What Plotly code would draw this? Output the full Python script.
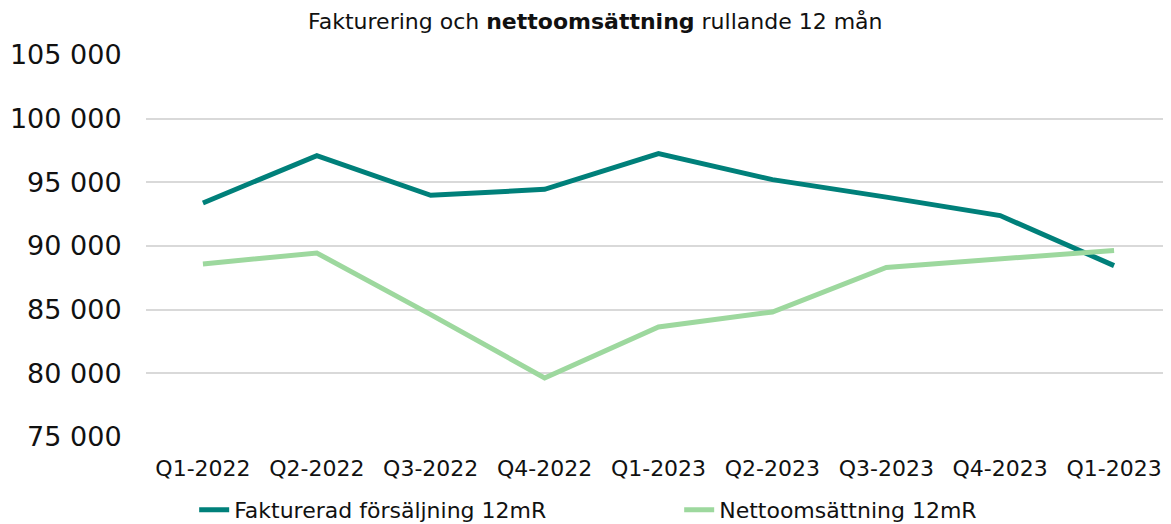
import plotly.graph_objects as go

categories = ["Q1-2022", "Q2-2022", "Q3-2022", "Q4-2022", "Q1-2023",
              "Q2-2023", "Q3-2023", "Q4-2023", "Q1-2023"]
fakturerad = [93380, 97100, 93980, 94450, 97250, 95210, 93840, 92390, 88460]
netto = [88590, 89450, 84610, 79640, 83640, 84820, 88320, 89000, 89650]
y_ticks = [75000, 80000, 85000, 90000, 95000, 100000, 105000]

xpos = list(range(len(categories)))
FONT = "DejaVu Sans"

fig = go.Figure()
fig.add_trace(go.Scatter(x=xpos, y=fakturerad, mode="lines",
                         name="Fakturerad försäljning 12mR",
                         line=dict(color="#00807A", width=5)))
fig.add_trace(go.Scatter(x=xpos, y=netto, mode="lines",
                         name="Nettoomsättning 12mR",
                         line=dict(color="#9DD89E", width=5)))

fig.update_layout(
    width=1163, height=516,
    margin=dict(l=138, r=0, t=47, b=87, autoexpand=False),
    paper_bgcolor="white", plot_bgcolor="white",
    separators=", ",
    font=dict(family=FONT, color="#111111"),
    title=dict(text="Fakturering och <b>nettoomsättning</b> rullande 12 mån",
               x=0.505, xanchor="center", y=0.974, yanchor="middle",
               font=dict(size=22, family=FONT, color="#111111")),
    showlegend=True,
    legend=dict(orientation="h", x=0.047, xanchor="left", y=-0.191, yanchor="middle",
                font=dict(size=22, family=FONT), entrywidth=440, entrywidthmode="pixels"),
)
fig.update_xaxes(range=[-0.5, 8.5], tickvals=xpos, ticktext=categories,
                 showgrid=False, zeroline=False, showline=False,
                 ticks="outside", ticklen=12, tickcolor="white",
                 tickfont=dict(size=22, family=FONT, color="#111111"))
fig.update_yaxes(range=[75000, 105000], tickvals=y_ticks, tickformat=",d",
                 showgrid=True, gridcolor="#D9D9D9", gridwidth=1.6,
                 zeroline=False, showline=False,
                 ticks="outside", ticklen=18, tickcolor="white",
                 tickfont=dict(size=27, family=FONT, color="#111111"))

fig.write_html("out.html")
